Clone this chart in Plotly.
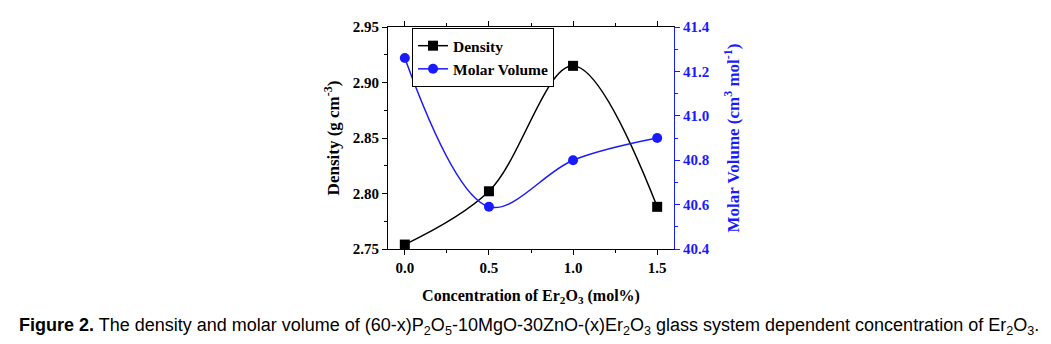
import plotly.graph_objects as go

conc = [0.0, 0.5, 1.0, 1.5]
density = [2.754, 2.802, 2.915, 2.788]
molar_volume = [41.26, 40.59, 40.80, 40.90]

SERIF = "Liberation Serif, Times New Roman, serif"
BLUE = "#1a1aff"

fig = go.Figure()
fig.add_trace(go.Scatter(
    x=conc, y=density, name="<b>Density</b>", mode="lines+markers",
    line=dict(color="black", width=1.5, shape="spline", smoothing=1.0),
    marker=dict(symbol="square", size=10, color="black"),
))
fig.add_trace(go.Scatter(
    x=conc, y=molar_volume, name="<b>Molar Volume</b>", mode="lines+markers",
    line=dict(color=BLUE, width=1.5, shape="spline", smoothing=1.0),
    marker=dict(symbol="circle", size=10, color=BLUE),
    yaxis="y2",
))

fig.update_layout(
    width=1051, height=344,
    margin=dict(l=388, r=377, t=27, b=95),
    paper_bgcolor="white", plot_bgcolor="white",
    font=dict(family=SERIF, size=15, color="black"),
    showlegend=True,
    legend=dict(x=0.084, y=0.995, xanchor="left", yanchor="top",
                bordercolor="black", borderwidth=1, bgcolor="white",
                font=dict(family=SERIF, size=15.5, color="black"),
                tracegroupgap=0, itemwidth=30),
    xaxis=dict(
        range=[-0.1, 1.6], tickvals=[0.0, 0.5, 1.0, 1.5],
        ticktext=["<b>0.0</b>", "<b>0.5</b>", "<b>1.0</b>", "<b>1.5</b>"],
        showgrid=False, zeroline=False, showline=True, linecolor="black", linewidth=1,
        mirror="ticks", ticks="outside", ticklen=5, tickcolor="black",
        minor=dict(ticks="outside", ticklen=3, dtick=0.25, tick0=0, tickcolor="black"),
        title=dict(text="<b>Concentration of Er<sub>2</sub>O<sub>3</sub> (mol%)</b>",
                   font=dict(family=SERIF, size=16), standoff=14),
        tickfont=dict(family=SERIF, size=15),
    ),
    yaxis=dict(
        range=[2.75, 2.95], tickvals=[2.75, 2.80, 2.85, 2.90, 2.95],
        ticktext=["<b>2.75</b>", "<b>2.80</b>", "<b>2.85</b>", "<b>2.90</b>", "<b>2.95</b>"],
        showgrid=False, zeroline=False, showline=True, linecolor="black", linewidth=1,
        ticks="outside", ticklen=5, tickcolor="black",
        minor=dict(ticks="outside", ticklen=3, dtick=0.025, tick0=2.75, tickcolor="black"),
        title=dict(text="<b>Density (g cm<sup>-3</sup>)</b>", font=dict(family=SERIF, size=17),
                   standoff=8),
        tickfont=dict(family=SERIF, size=15),
    ),
    yaxis2=dict(
        range=[40.4, 41.4], tickvals=[40.4, 40.6, 40.8, 41.0, 41.2, 41.4],
        ticktext=["<b>40.4</b>", "<b>40.6</b>", "<b>40.8</b>", "<b>41.0</b>", "<b>41.2</b>", "<b>41.4</b>"],
        overlaying="y", side="right",
        showgrid=False, zeroline=False, showline=True, linecolor=BLUE, linewidth=1,
        ticks="outside", ticklen=5, tickcolor=BLUE,
        minor=dict(ticks="outside", ticklen=3, dtick=0.1, tick0=40.4, tickcolor=BLUE),
        title=dict(text="<b>Molar Volume (cm<sup>3</sup> mol<sup>-1</sup>)</b>",
                   font=dict(family=SERIF, size=17, color=BLUE), standoff=18),
        tickfont=dict(family=SERIF, size=15, color=BLUE),
    ),
)

fig.add_annotation(
    xref="paper", yref="paper", x=0.493, y=-0.351, xanchor="center", yanchor="middle",
    showarrow=False,
    text=("<b>Figure 2.</b> The density and molar volume of (60-x)P<sub>2</sub>O<sub>5</sub>"
          "-10MgO-30ZnO-(x)Er<sub>2</sub>O<sub>3</sub> glass system dependent concentration "
          "of Er<sub>2</sub>O<sub>3</sub>."),
    font=dict(family="Liberation Sans Narrow, Arial Narrow, Liberation Sans, sans-serif",
              size=18, color="black"),
)

fig.write_html("out.html")
